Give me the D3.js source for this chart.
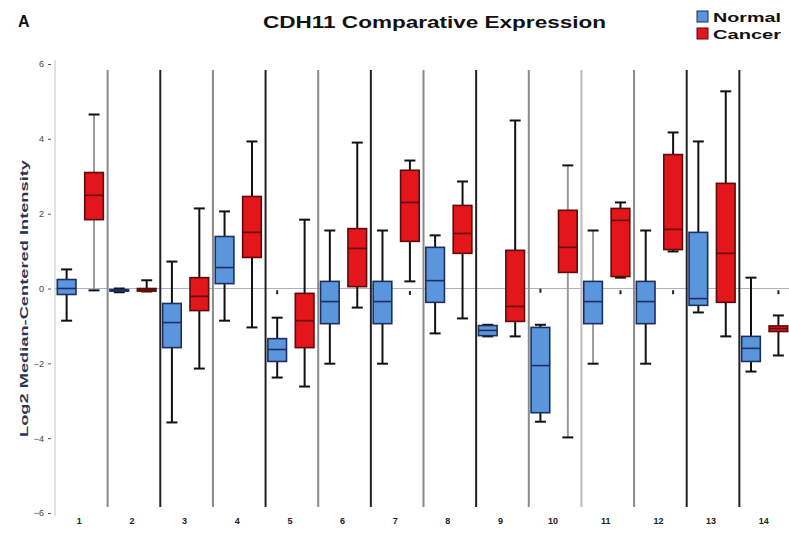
<!DOCTYPE html>
<html><head><meta charset="utf-8">
<script src="https://cdn.jsdelivr.net/npm/d3@7"></script>
<style>body{margin:0;background:#fff} svg{display:block}</style>
</head><body><svg id="c" width="789" height="535"></svg>
<script>
const categories = ["1","2","3","4","5","6","7","8","9","10","11","12","13","14"];
const groups = ["Normal","Cancer"];

const normalMin    = [-0.86,-0.10,-3.58,-0.86,-2.38,-2.01,-2.01,-1.20,-1.28,-3.56,-2.01,-2.01,-0.64,-2.22];
const normalQ1     = [-0.16,-0.07,-1.58, 0.13,-1.95,-0.94,-0.94,-0.37,-1.26,-3.32,-0.94,-0.94,-0.45,-1.95];
const normalMedian = [ 0.00,-0.05,-0.91, 0.56,-1.63,-0.35,-0.35, 0.21,-1.12,-2.06,-0.35,-0.35,-0.27,-1.60];
const normalQ3     = [ 0.24,-0.03,-0.40, 1.39,-1.34, 0.19, 0.19, 1.10,-0.99,-1.04, 0.19, 0.19, 1.50,-1.28];
const normalMax    = [ 0.51, 0.00, 0.72, 2.06,-0.78, 1.55, 1.55, 1.42,-0.97,-0.97, 1.55, 1.55, 3.93, 0.29];

const cancerMin    = [-0.05,-0.08,-2.14,-1.04,-2.62,-0.51, 0.19,-0.80,-1.28,-3.98, 0.29, 0.99,-1.28,-1.79];
const cancerQ1     = [ 1.84,-0.07,-0.59, 0.83,-1.58, 0.05, 1.26, 0.94,-0.88, 0.43, 0.32, 1.04,-0.37,-1.15];
const cancerMedian = [ 2.49,-0.04,-0.21, 1.50,-0.86, 1.07, 2.30, 1.47,-0.48, 1.10, 1.82, 1.58, 0.94,-1.07];
const cancerQ3     = [ 3.10, 0.00, 0.29, 2.46,-0.13, 1.60, 3.16, 2.22, 1.02, 2.09, 2.14, 3.58, 2.81,-1.00];
const cancerMax    = [ 4.65, 0.22, 2.14, 3.93, 1.84, 3.90, 3.42, 2.86, 4.49, 3.29, 2.30, 4.17, 5.27,-0.72];

const outlierCats   = ["5","7","10","11","12","14"];
const outlierGroups = ["Normal","Cancer","Normal","Cancer","Cancer","Cancer"];
const outlierValues = [-0.10,-0.12,-0.06,-0.10,-0.10,-0.10];

const yTicks = [-6,-4,-2,0,2,4,6];

// styles
const sepColors = ["#8a8a8a","#222","#8a8a8a","#222","#8a8a8a","#222","#8a8a8a","#222","#8a8a8a","#bbb","#8a8a8a","#222","#222"];
const greyWhisker = {"1-Cancer":true,"10-Cancer":true,"11-Normal":true};
const fills = {Normal:"#5b96dc", Cancer:"#e3161b"};
const strokes = {Normal:"#1c2f63", Cancer:"#5e0b0b"};
const FONT = "Liberation Sans, Arial, sans-serif";

const svg = d3.select("#c");
const x = d3.scaleBand().domain(categories).range([55, 792]).paddingInner(0).paddingOuter(0);
const xs = d3.scaleBand().domain(groups).range([0, x.bandwidth()]).paddingInner(0.32).paddingOuter(0.12).align(0.35);
const y = d3.scaleLinear().domain([-6, 6]).range([513, 64]);

const rows = [];
categories.forEach((c, i) => {
  rows.push({cat:c, group:"Normal", min:normalMin[i], q1:normalQ1[i], med:normalMedian[i], q3:normalQ3[i], max:normalMax[i]});
  rows.push({cat:c, group:"Cancer", min:cancerMin[i], q1:cancerQ1[i], med:cancerMedian[i], q3:cancerQ3[i], max:cancerMax[i]});
});
const outliers = outlierCats.map((c, i) => ({cat:c, group:outlierGroups[i], value:outlierValues[i]}));

// y axis
const yAxis = d3.axisLeft(y).tickValues(yTicks).tickSize(3).tickPadding(4).tickFormat(d3.format("d"));
const gy = svg.append("g").attr("transform", "translate(51,0)").call(yAxis);
gy.select(".domain").remove();
gy.selectAll("text").attr("font-family", FONT).attr("font-size", 9).attr("fill", "#444");
gy.selectAll(".tick line").attr("stroke", "#555");
svg.append("line").attr("x1", 55).attr("x2", 55).attr("y1", 60).attr("y2", 516).attr("stroke", "#c4c4c4").attr("stroke-width", 1);

// zero line
svg.append("line").attr("x1", 55).attr("x2", 789).attr("y1", y(0)).attr("y2", y(0))
  .attr("stroke", "#aab2c4").attr("stroke-width", 1.2);

// separators
svg.append("g").selectAll("line").data(categories.slice(1)).join("line")
  .attr("x1", d => x(d)).attr("x2", d => x(d))
  .attr("y1", 70).attr("y2", 507)
  .attr("stroke", (d, i) => sepColors[i]).attr("stroke-width", 2);

// x labels
const xAxis = d3.axisBottom(x).tickSize(0).tickPadding(0);
const gx = svg.append("g").attr("transform", "translate(-2,518)").call(xAxis);
gx.select(".domain").remove();
gx.selectAll("text").attr("font-family", FONT).attr("font-size", 9).attr("fill", "#222").attr("font-weight", "bold");

const cx = d => x(d.cat) + xs(d.group) + xs.bandwidth() / 2;
const capW = 11;

const g = svg.append("g");
g.selectAll("line.wh").data(rows).join("line").attr("class", "wh")
  .attr("x1", cx).attr("x2", cx).attr("y1", d => y(d.max)).attr("y2", d => y(d.min))
  .attr("stroke", d => greyWhisker[d.cat + "-" + d.group] ? "#9a9a9a" : "#111").attr("stroke-width", 2);
["max","min"].forEach(k => {
  g.selectAll("line.cap" + k).data(rows).join("line").attr("class", "cap" + k)
    .attr("x1", d => cx(d) - capW / 2).attr("x2", d => cx(d) + capW / 2)
    .attr("y1", d => y(d[k])).attr("y2", d => y(d[k]))
    .attr("stroke", "#111").attr("stroke-width", 2);
});
g.selectAll("rect.box").data(rows).join("rect").attr("class", "box")
  .attr("x", d => x(d.cat) + xs(d.group)).attr("width", xs.bandwidth())
  .attr("y", d => y(d.q3)).attr("height", d => Math.max(1, y(d.q1) - y(d.q3)))
  .attr("fill", d => fills[d.group]).attr("stroke", d => strokes[d.group]).attr("stroke-width", 1.6);
g.selectAll("line.med").data(rows).join("line").attr("class", "med")
  .attr("x1", d => x(d.cat) + xs(d.group)).attr("x2", d => x(d.cat) + xs(d.group) + xs.bandwidth())
  .attr("y1", d => y(d.med)).attr("y2", d => y(d.med))
  .attr("stroke", d => strokes[d.group]).attr("stroke-width", 1.6);
g.selectAll("rect.out").data(outliers).join("rect").attr("class", "out")
  .attr("x", d => cx(d) - 1).attr("width", 2)
  .attr("y", d => y(d.value) - 2).attr("height", 4).attr("fill", "#222");

// titles
svg.append("text").attr("x", 18).attr("y", 27).text("A")
  .attr("font-family", FONT).attr("font-size", 16).attr("font-weight", "bold").attr("fill", "#111");
svg.append("text").attr("x", 263).attr("y", 28).text("CDH11 Comparative Expression")
  .attr("textLength", 343).attr("lengthAdjust", "spacingAndGlyphs")
  .attr("font-family", FONT).attr("font-size", 16).attr("font-weight", "bold").attr("fill", "#111");
svg.append("text").attr("transform", "translate(28,437) rotate(-90)").text("Log2 Median-Centered Intensity")
  .attr("textLength", 277).attr("lengthAdjust", "spacingAndGlyphs")
  .attr("font-family", FONT).attr("font-size", 10).attr("font-weight", "bold").attr("fill", "#2a3552");

// legend
const leg = svg.append("g").attr("transform", "translate(697,11)");
groups.forEach((gname, i) => {
  leg.append("rect").attr("x", 0).attr("y", i * 17).attr("width", 11).attr("height", 11)
    .attr("fill", fills[gname]).attr("stroke", strokes[gname]).attr("stroke-width", 1);
  leg.append("text").attr("x", 16).attr("y", i * 17 + 10.5).text(gname)
    .attr("textLength", 68).attr("lengthAdjust", "spacingAndGlyphs")
    .attr("font-family", FONT).attr("font-size", 13).attr("font-weight", "bold").attr("fill", "#111");
});
</script></body></html>
